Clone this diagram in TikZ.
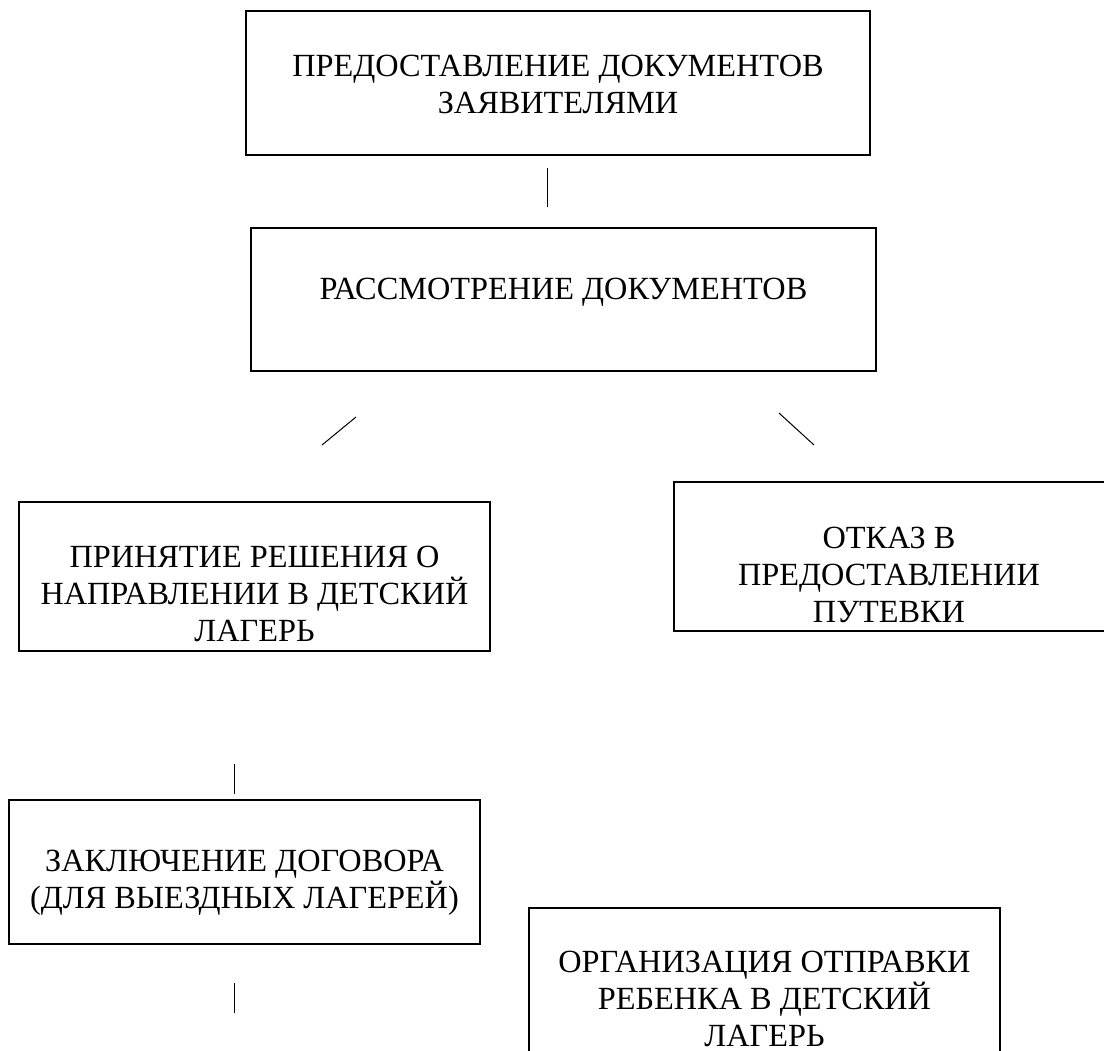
\documentclass[tikz,border=0pt]{standalone}
\usepackage{fontspec}
\setmainfont{Liberation Serif}
\begin{document}
\begin{tikzpicture}[x=1pt,y=-1pt,
  box/.style={draw=black, line width=1.8pt, inner sep=0pt, outer sep=0pt, anchor=north west},
  txt/.style={align=center, inner sep=0pt, anchor=base, font=\fontsize{32.3}{37}\selectfont},
  link/.style={draw=black, line width=1pt}]
\clip (0,0) rectangle (1104,1051);
\fill[white] (0,0) rectangle (1104,1051);
% boxes
\node[box, minimum width=624pt, minimum height=144pt] (b1) at (246,11) {};
\node[box, minimum width=625pt, minimum height=143pt] (b2) at (251,228) {};
\node[box, minimum width=471pt, minimum height=149pt] (b3) at (19,502) {};
\node[box, minimum width=440pt, minimum height=149pt] (b4) at (674,482) {};
\node[box, minimum width=471pt, minimum height=144pt] (b5) at (9,800) {};
\node[box, minimum width=471pt, minimum height=170pt] (b6) at (529,908) {};
% texts (anchor base = baseline of the last line)
\node[txt] (t1) at (558,114) {ПРЕДОСТАВЛЕНИЕ ДОКУМЕНТОВ\\ЗАЯВИТЕЛЯМИ};
\node[txt] (t2) at (563.5,300) {РАССМОТРЕНИЕ ДОКУМЕНТОВ};
\node[txt] (t3) at (254.5,641) {ПРИНЯТИЕ РЕШЕНИЯ О\\НАПРАВЛЕНИИ В ДЕТСКИЙ\\ЛАГЕРЬ};
\node[txt] (t4) at (889,622) {ОТКАЗ В\\ПРЕДОСТАВЛЕНИИ\\ПУТЕВКИ};
\node[txt] (t5) at (244.5,908) {ЗАКЛЮЧЕНИЕ ДОГОВОРА\\(ДЛЯ ВЫЕЗДНЫХ ЛАГЕРЕЙ)};
\node[txt] (t6) at (764.5,1046) {ОРГАНИЗАЦИЯ ОТПРАВКИ\\РЕБЕНКА В ДЕТСКИЙ\\ЛАГЕРЬ};
% connector ends
\coordinate (c1a) at (547,168);
\coordinate (c1b) at (547,207);
\coordinate (c2a) at (322,445);
\coordinate (c2b) at (356,417);
\coordinate (c3a) at (779,413);
\coordinate (c3b) at (814,445);
\coordinate (c4a) at (234,764);
\coordinate (c4b) at (234,794);
\coordinate (c5a) at (234,983);
\coordinate (c5b) at (234,1013);
\draw[link] (c1a) -- (c1b);
\draw[link] (c2a) -- (c2b);
\draw[link] (c3a) -- (c3b);
\draw[link] (c4a) -- (c4b);
\draw[link] (c5a) -- (c5b);
\end{tikzpicture}
\end{document}
